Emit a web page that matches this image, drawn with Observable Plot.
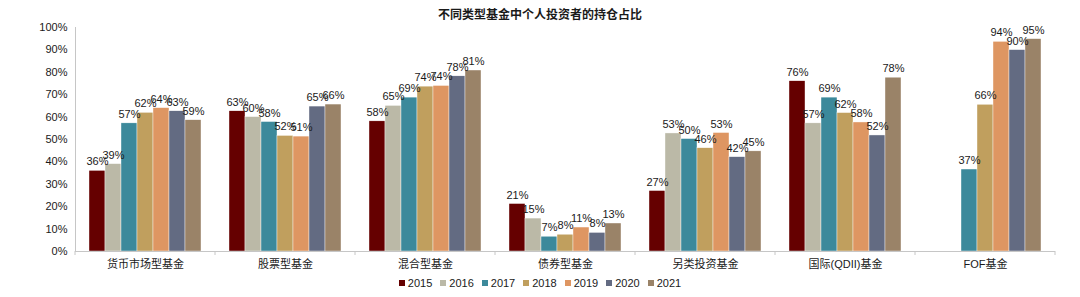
<!DOCTYPE html>
<html>
<head>
<meta charset="utf-8">
<script src="https://cdn.jsdelivr.net/npm/d3@7"></script>
<script src="https://cdn.jsdelivr.net/npm/@observablehq/plot@0.6"></script>
<style>
  body { margin: 0; background: #fff; font-family: "Liberation Sans", Arial, "Noto Sans CJK SC", sans-serif; color: #1a1a1a; }
  #title { height: 20px; line-height: 20px; padding-top: 5px; text-align: center; font-weight: bold; font-size: 12px; }
  #legend { display: flex; justify-content: center; height: 16px; line-height: 16px; font-size: 11px; }
  .item { display: flex; align-items: center; margin: 0 4px; }
  .sw { width: 6px; height: 6px; margin-right: 3px; }
</style>
</head>
<body>
<div id="title">不同类型基金中个人投资者的持仓占比</div>
<div id="chart"></div>
<div id="legend"></div>
<script>
const categories = ["货币市场型基金", "股票型基金", "混合型基金", "债券型基金", "另类投资基金", "国际(QDII)基金", "FOF基金"];
const years = ["2015", "2016", "2017", "2018", "2019", "2020", "2021"];
const colors = ["#650000", "#bbb9a7", "#3c899b", "#c09f5e", "#de9662", "#636b82", "#9a8368"];
const yTicks = [0, 10, 20, 30, 40, 50, 60, 70, 80, 90, 100];

const moneyMarket = [36, 39, 57.2, 61.9, 64, 62.6, 58.6];
const equity      = [62.6, 60, 57.8, 51.6, 51.3, 64.7, 65.6];
const mixed       = [58.1, 65, 68.7, 73.6, 73.9, 78.2, 80.8];
const bond        = [21.2, 14.7, 6.6, 7.5, 10.7, 8.3, 12.5];
const alternative = [27, 52.7, 50.2, 46.1, 52.9, 42.1, 44.7];
const qdii        = [76, 57.2, 68.7, 61.8, 57.6, 51.8, 77.6];
const fof         = [null, null, 36.6, 65.5, 93.6, 89.9, 94.8];

const series = [moneyMarket, equity, mixed, bond, alternative, qdii, fof];
const data = [];
categories.forEach((c, i) => years.forEach((y, j) => {
  if (series[i][j] != null) data.push({category: c, year: y, value: series[i][j]});
}));

const font = '"Liberation Sans", Arial, "Noto Sans CJK SC", sans-serif';
const axisColor = "#c6c6c6";

const chart = Plot.plot({
  width: 1080,
  height: 250,
  marginTop: 2,
  marginBottom: 24,
  marginLeft: 74,
  marginRight: 25,
  style: {fontFamily: font, fontSize: "11px", color: "#1a1a1a", overflow: "visible", background: "transparent"},
  fx: {domain: categories, padding: 0, label: null},
  x: {domain: years, paddingInner: 0, paddingOuter: 0.72, axis: null},
  y: {domain: [0, 100], label: null},
  color: {domain: years, range: colors},
  marks: [
    Plot.axisY({ticks: yTicks, tickFormat: d => d + "%", tickSize: 0, tickPadding: 8, label: null, fontSize: 11}),
    Plot.axisFx({anchor: "bottom", tickSize: 0, tickPadding: 9, label: null, fontSize: 11}),
    Plot.barY(data, {fx: "category", x: "year", y: "value", fill: "year", stroke: "#fff", strokeWidth: 0.4}),
    Plot.ruleY([0], {stroke: axisColor}),
    Plot.frame({anchor: "left", facetAnchor: "left", stroke: axisColor}),
    Plot.text(data, {fx: "category", x: "year", y: "value", text: d => Math.round(d.value) + "%", dy: -9, fontSize: 11, fill: "#1a1a1a"})
  ]
});
document.getElementById("chart").appendChild(chart);

// category boundary ticks below the axis, placed from the fx and y scales
const fxS = chart.scale("fx");
const yS = chart.scale("y");
const y0 = yS.apply(0);
const edges = categories.map(c => fxS.apply(c));
edges.push(fxS.apply(categories[categories.length - 1]) + fxS.bandwidth);
const svg = d3.select(chart);
svg.append("g").selectAll("line").data(edges).join("line")
  .attr("x1", d => d).attr("x2", d => d)
  .attr("y1", y0).attr("y2", y0 + 4)
  .attr("stroke", axisColor);

// legend
const lg = d3.select("#legend");
years.forEach((y, i) => {
  const it = lg.append("div").attr("class", "item");
  it.append("div").attr("class", "sw").style("background", colors[i]);
  it.append("span").text(y);
});
</script>
</body>
</html>
